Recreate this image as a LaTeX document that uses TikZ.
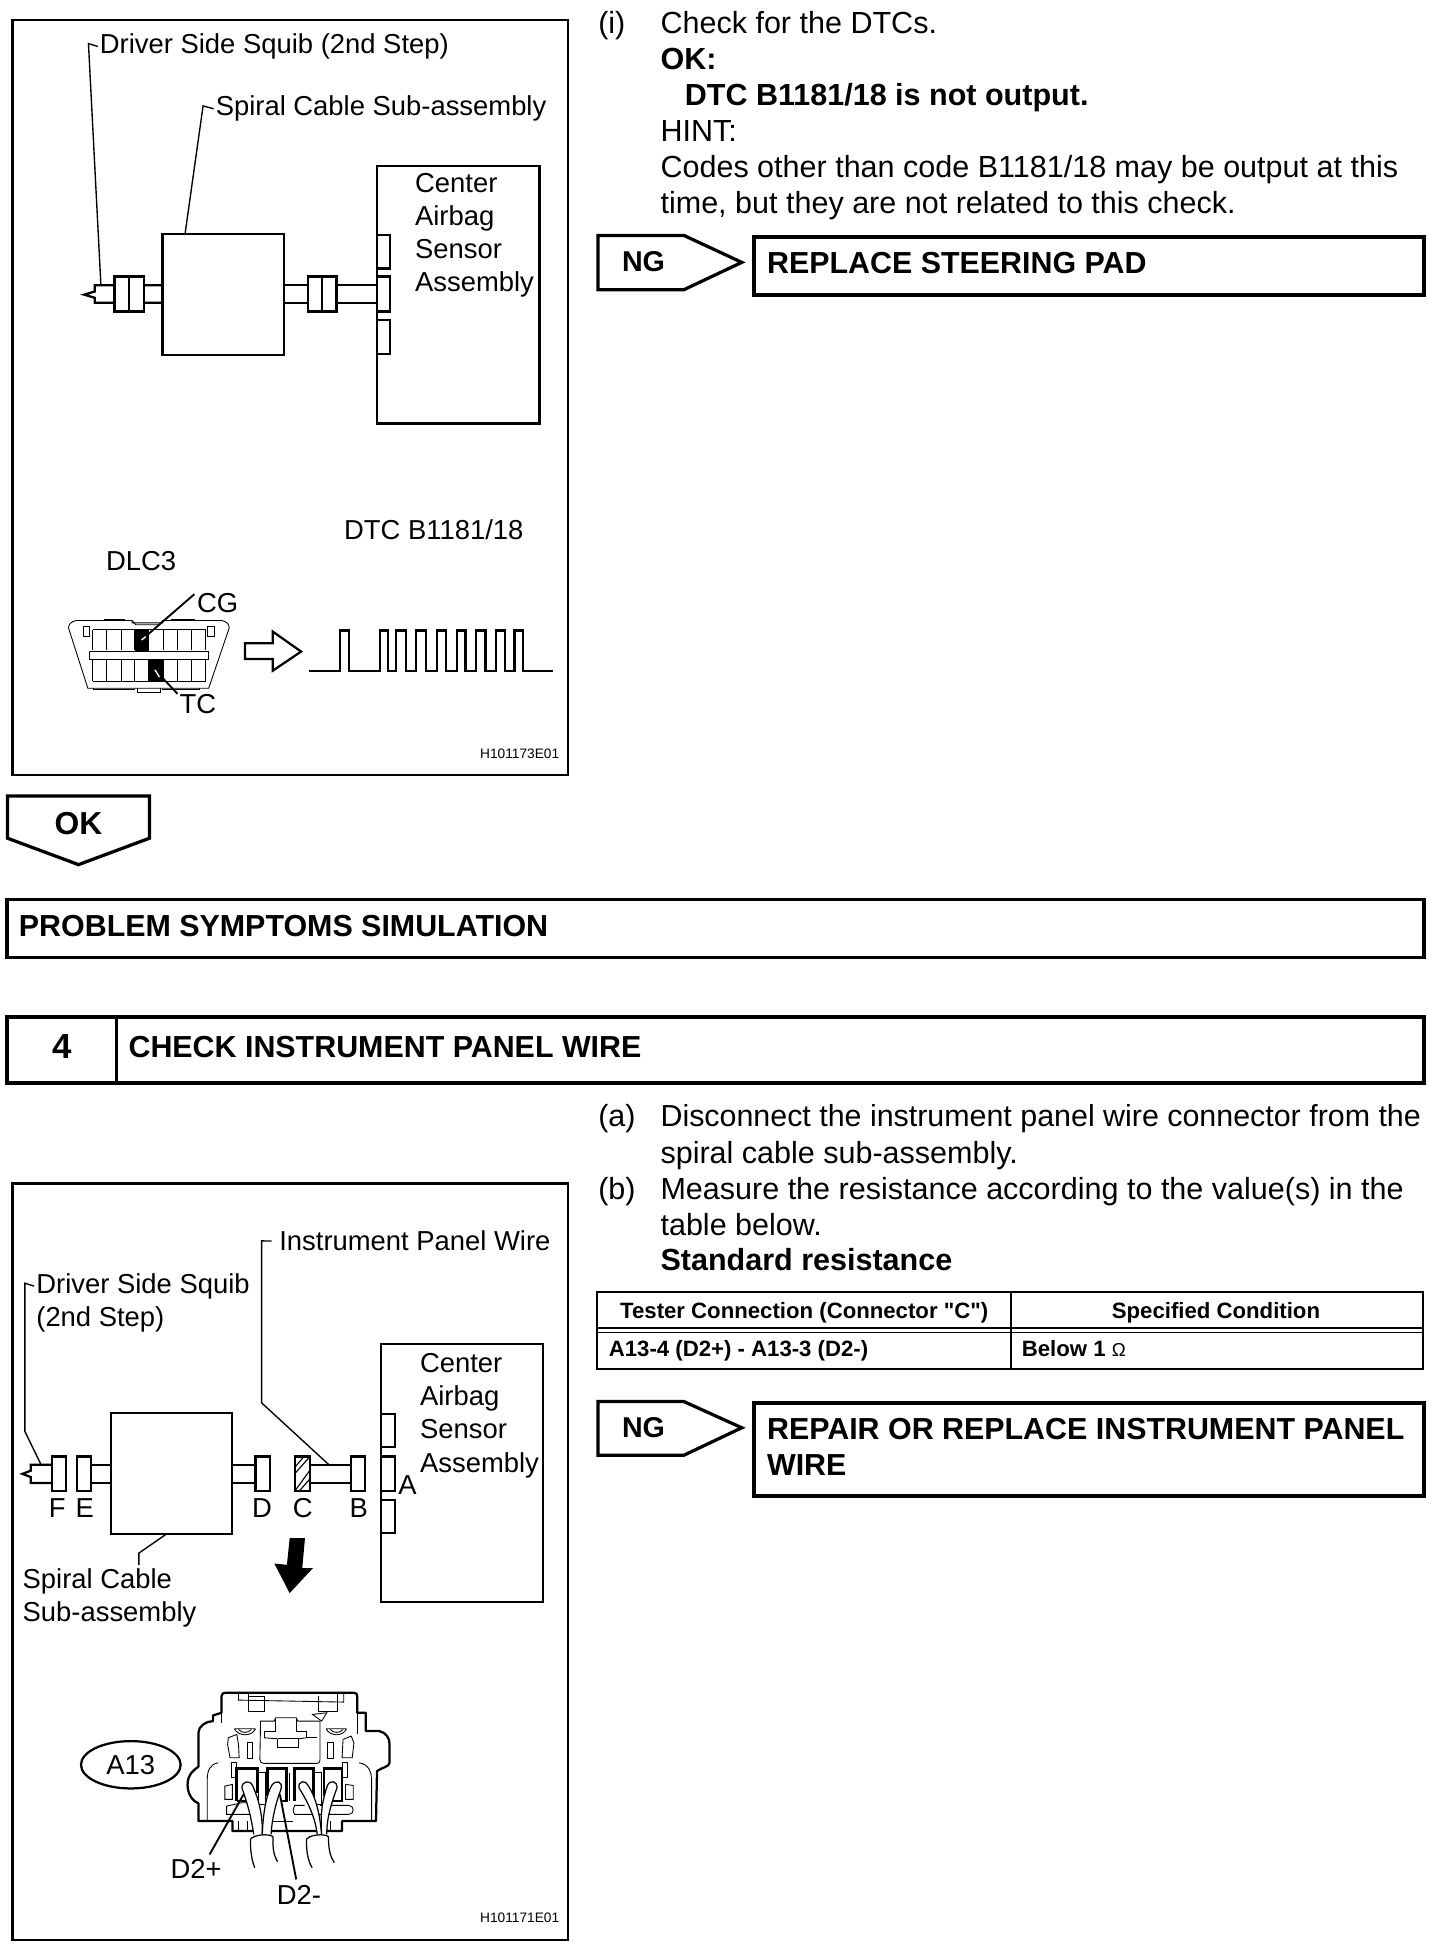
\documentclass[tikz,border=0pt]{standalone}
\usepackage{fontspec}
\setmainfont{Liberation Sans}
\newfontfamily\plainfam{Liberation Sans}
\usetikzlibrary{shapes.geometric,patterns}
\newcommand{\boxnode}[6]{\pgfmathsetmacro\rw{#4-#2}\pgfmathsetmacro\rh{#5-#3}\node[#6,anchor=north west,minimum width=\rw pt,minimum height=\rh pt,inner sep=0pt,outer sep=0pt] (#1) at (#2,#3) {};}
\tikzset{
  frm/.style={draw,line width=2pt},
  shp/.style={draw,fill=white,line width=1.8pt},
  hdr/.style={draw,line width=3pt},
  body/.style={inner sep=0pt,anchor=base west,font=\fontsize{24.5}{27}\selectfont},
  bbody/.style={inner sep=0pt,anchor=base west,font=\fontsize{24.5}{27}\selectfont\bfseries},
  lab/.style={inner sep=0pt,anchor=base west,font=\fontsize{22}{24}\selectfont},
  labc/.style={inner sep=0pt,anchor=base,font=\fontsize{22}{24}\selectfont},
  tit/.style={inner sep=0pt,anchor=base west,font=\fontsize{24.4}{27}\selectfont\bfseries},
  tbh/.style={inner sep=0pt,anchor=base,font=\fontsize{17.8}{19}\selectfont\bfseries},
  tbc/.style={inner sep=0pt,anchor=base west,font=\fontsize{17.8}{19}\selectfont\bfseries},
  code/.style={inner sep=0pt,anchor=base east,font=\fontsize{11}{12}\selectfont},
  lead/.style={line width=1.1pt},
  lead2/.style={line width=1.5pt},
  thin1/.style={line width=.7pt},
  arrowbox/.style={draw,fill=white,line width=2.6pt,line join=miter},
  wireln/.style={line width=1.8pt},
}
\begin{document}
\begin{tikzpicture}[x=1pt,y=-1pt]
\useasboundingbox (0,0) rectangle (1168.5,1570);
% ---------- upper frame
\boxnode{frameA}{10}{16}{456}{622}{frm}
\node[lab] (tA1) at (80,43) {Driver Side Squib (2nd Step)};
\node[lab] (tA2) at (173,93) {Spiral Cable Sub-assembly};
\boxnode{spiralA}{130.5}{188}{228}{285}{shp}
\boxnode{ecuA}{302.5}{133}{433}{340}{shp}
\node[lab] (tA3) at (333,154.5) {Center};
\node[lab] (tA4) at (333,181) {Airbag};
\node[lab] (tA5) at (333,207.5) {Sensor};
\node[lab] (tA6) at (333,234) {Assembly};
\boxnode{portA1}{302.5}{188.5}{313}{215.5}{shp}
\boxnode{portA2}{302.5}{222}{313}{250}{shp}
\boxnode{portA3}{302.5}{257}{313}{284}{shp}
% wires
\draw[wireln,line join=miter] (130.5,229) -- (76,229) -- (76,234) -- (67.5,236.5) -- (76,239) -- (76,243) -- (130.5,243);
\draw[wireln] (228,229) -- (302.5,229) (228,243) -- (302.5,243);
\boxnode{connA1}{92}{222}{115.5}{250}{shp}
\draw[wireln] (103.8,222) -- (103.8,250);
\boxnode{connA2}{247}{222}{270}{250}{shp}
\draw[wireln] (258.5,222) -- (258.5,250);
% leaders
\coordinate (hA1) at (71,35);
\coordinate (eA1) at (81,229);
\draw[lead] (tA1.west) ++(-1.5,0) -- (hA1) -- (eA1);
\coordinate (hA2) at (163,85);
\coordinate (eA2) at (148.5,188);
\draw[lead] (tA2.west) ++(-1.5,0) -- (hA2) -- (eA2);
% DLC3
\node[lab] (tDlc) at (85,458) {DLC3};
\node[lab] (tDtc) at (276,433) {DTC B1181/18};
\draw[thin1,fill=white] (61.4,498) -- (106,498) -- (106,500) -- (130.5,500) -- (130.5,498) -- (178,498) .. controls (182,499) and (184,501) .. (184,504) -- (167.5,552.4) -- (70.5,552.4) -- (55,504) .. controls (55,501) and (57,499) .. (61.4,498) -- cycle;
\draw[thin1] (84,498) -- (84,496.8) -- (100,496.8) -- (100,498) (138,498) -- (138,496.8) -- (156,496.8) -- (156,498);
\draw[thin1] (106,498) -- (109,501.5) -- (128,501.5) -- (130.5,498);
\draw[thin1] (75,552.4) -- (75,553.6) -- (108,553.6) (130,553.6) -- (160,553.6) -- (160,552.4);
\draw[thin1] (110.5,552.4) -- (110.5,555.7) -- (128.4,555.7) -- (128.4,552.4);
\draw[thin1] (67,503) rectangle (72,511) (166.8,503) rectangle (172,511);
\fill (108,505.6) rectangle (119.2,522.5);
\fill (119.2,528.4) rectangle (130.5,546.6);
\foreach \xa in {74.3,85.4,97.7,108,119.2,131.4,142.8,153.6,165}{
  \draw[thin1] (\xa,505.6) -- (\xa,521.7);
  \draw[thin1] (\xa,529) -- (\xa,546.6);
}
\draw[thin1] (74.3,505.6) -- (165,505.6) (74.3,546.6) -- (165,546.6);
\draw[thin1,fill=white] (71.6,523) rectangle (167.4,529);
\node[lab] (tCG) at (158,491.5) {CG};
\node[lab] (tTC) at (144,572.5) {TC};
\coordinate (eCG) at (113.6,513.7);
\coordinate (eTC) at (124.4,537.7);
\draw[lead2] (tCG.west) ++(-2,-7) -- (eCG);
\draw[white,lead] (117,511) -- (eCG);
\draw[lead2] (tTC.west) ++(-1.5,-8) -- (eTC);
\draw[white,lead] (128,543.5) -- (eTC);
% arrow
\node[inner sep=0pt,minimum size=0pt] (wvA) at (196.6,523) {};
\draw[line width=1.8pt,line join=miter] (wvA.center) ++(0,-6.7) -- (219,516.3) -- (219,507) -- (241.7,523) -- (219,538.3) -- (219,529) -- (196.6,529) -- cycle;
% waveform
\draw[line width=1.9pt] (248,538.8)
 -- (273,538.8) |- (280,506.2) |- (305,538.8) |- (311.5,506.2) |- (318,538.8)
 |- (326,506.2) |- (334,538.8) |- (342,506.2) |- (350.6,538.8) |- (358,506.2)
 |- (366.6,538.8) |- (373.6,506.2) |- (382,538.8) |- (389.6,506.2) |- (398,538.8)
 |- (405.5,506.2) |- (413,538.8) |- (420,506.2) |- (444,538.8);
\node[code] (codeA) at (449,609) {H101173E01};
% ---------- OK
\node[inner sep=0pt] (okc) at (63,661) {};
\draw[arrowbox] (6,639) -- (120,639) -- (120,672.8) -- (63,694) -- (6,672.8) -- cycle;
\node[bbody,anchor=center,font=\fontsize{25.5}{27}\selectfont\bfseries] (okt) at (okc) {OK};
% ---------- banner
\boxnode{probB}{5.5}{722}{1143}{768.5}{hdr}
\node[tit] (probT) at (15,751.5) {PROBLEM SYMPTOMS SIMULATION};
\boxnode{numB}{5.5}{816}{93.5}{869}{hdr}
\boxnode{checkB}{93.5}{816}{1143}{869}{hdr}
\node[inner sep=0pt,anchor=center,font=\fontsize{28}{30}\selectfont\bfseries] (numT) at (50,840) {4};
\node[tit] (checkT) at (103,848.5) {CHECK INSTRUMENT PANEL WIRE};
% ---------- upper text
\node[body] (ti) at (480,26.5) {(i)};
\node[body] (l1) at (530,26.5) {Check for the DTCs.};
\node[bbody] (l2) at (530,55.5) {OK:};
\node[bbody] (l3) at (549.5,84.5) {DTC B1181/18 is not output.};
\node[body] (l4) at (530,113.5) {HINT:};
\node[body] (l5) at (530,142.5) {Codes other than code B1181/18 may be output at this};
\node[body] (l6) at (530,171.5) {time, but they are not related to this check.};
\draw[arrowbox] (480,189) -- (549,189) -- (595.4,210.6) -- (549,232.5) -- (480,232.5) -- cycle;
\node[bbody,anchor=center,font=\fontsize{23}{25}\selectfont\bfseries] (ng1) at (516.5,210) {NG};
\boxnode{repA}{605}{190}{1143}{237}{hdr}
\node[tit] (repAt) at (615.5,219.5) {REPLACE STEERING PAD};
% ---------- lower text
\node[body] (ta) at (480,904.5) {(a)};
\node[body,font=\fontsize{24.4}{27}\selectfont] (m1) at (530,904.5) {Disconnect the instrument panel wire connector from the};
\node[body] (m2) at (530,933.5) {spiral cable sub-assembly.};
\node[body] (tb) at (480,962.5) {(b)};
\node[body] (m3) at (530,962.5) {Measure the resistance according to the value(s) in the};
\node[body] (m4) at (530,991.5) {table below.};
\node[bbody] (m5) at (530,1020) {Standard resistance};
% table
\boxnode{tbl}{479}{1037}{1142}{1099}{draw,line width=2pt}
\draw[line width=1.4pt] (tbl.north west |- 0,1066) -- (tbl.north east |- 0,1066);
\draw[line width=1.4pt] (tbl.north west |- 0,1069.5) -- (tbl.north east |- 0,1069.5);
\draw[line width=1.4pt] (811.5,1037) -- (811.5,1099);
\node[tbh] (h1) at (645.5,1058) {Tester Connection (Connector {\plainfam\bfseries\symbol{34}C\symbol{34}})};
\node[tbh] (h2) at (976,1058) {Specified Condition};
\node[tbc] (c1) at (488.5,1088.5) {A13-4 (D2+) - A13-3 (D2-)};
\node[tbc] (c2) at (820,1088.5) {Below 1 {\mdseries\fontsize{15}{16}\selectfont Ω}};
\draw[arrowbox] (480,1125) -- (549,1125) -- (595.4,1146) -- (549,1168) -- (480,1168) -- cycle;
\node[bbody,anchor=center,font=\fontsize{23}{25}\selectfont\bfseries] (ng2) at (516.5,1145.5) {NG};
\boxnode{repB}{605}{1126}{1143}{1201}{hdr}
\node[tit] (repBt) at (615.5,1155.5) {REPAIR OR REPLACE INSTRUMENT PANEL};
\node[tit] (repBu) at (615.5,1184.5) {WIRE};
% ---------- lower frame
\boxnode{frameB}{10}{950}{456}{1557}{frm}
\node[lab] (tB1) at (224,1004) {Instrument Panel Wire};
\node[lab] (tB2) at (29,1038) {Driver Side Squib};
\node[lab] (tB3) at (29,1065) {(2nd Step)};
\node[lab] (tB4) at (18,1275) {Spiral Cable};
\node[lab] (tB5) at (18,1301.5) {Sub-assembly};
\boxnode{spiralB}{89}{1134}{186}{1231}{shp}
\boxnode{ecuB}{306}{1079}{436}{1286}{shp}
\node[lab] (tB6) at (337,1102) {Center};
\node[lab] (tB7) at (337,1128.5) {Airbag};
\node[lab] (tB8) at (337,1155) {Sensor};
\node[lab] (tB9) at (337,1181.5) {Assembly};
\boxnode{portB1}{306}{1135}{317}{1161.5}{shp}
\boxnode{portB2}{306}{1169}{317}{1197}{shp}
\boxnode{portB3}{306}{1204}{317}{1230.5}{shp}
\draw[wireln,line join=miter] (41.5,1175.7) -- (24.6,1175.7) -- (24.6,1180.5) -- (18,1183) -- (24.6,1185.5) -- (24.6,1190.4) -- (41.5,1190.4);
\draw[wireln] (73,1175.7) -- (89,1175.7) (73,1190.4) -- (89,1190.4);
\draw[wireln] (186,1175.7) -- (205,1175.7) (186,1190.4) -- (205,1190.4);
\draw[wireln] (248.8,1175.7) -- (282,1175.7) (248.8,1190.4) -- (282,1190.4);
\boxnode{connF}{41.5}{1169}{52.8}{1197}{shp}
\boxnode{connE}{62}{1169}{73}{1197}{shp}
\boxnode{connD}{205}{1169}{216.5}{1197}{shp}
\boxnode{connC}{236.5}{1169}{248.8}{1197}{shp}
\boxnode{connB}{282}{1169}{292.7}{1197}{shp}
\draw[line width=.9pt] (236.5,1183) -- (248.8,1169) (236.5,1197) -- (248.8,1180) (236.5,1178) -- (244,1169) (240,1197) -- (248.8,1187);
\node[labc] (lF) at (46,1218) {F};
\node[labc] (lE) at (68,1218) {E};
\node[labc] (lD) at (210.4,1218) {D};
\node[labc] (lC) at (243,1218) {C};
\node[labc] (lB) at (288,1218) {B};
\node[lab] (lA) at (319.5,1199.5) {A};
% leaders lower
\coordinate (hB1) at (20,1030);
\coordinate (kB1) at (20,1149);
\coordinate (eB1) at (33,1175.7);
\draw[lead] (tB2.west) ++(-1.5,0) -- (hB1) -- (kB1) -- (eB1);
\coordinate (hB2) at (210,996);
\coordinate (kB2) at (210,1126);
\coordinate (eB2) at (264,1175.7);
\draw[lead] (tB1.west) ++(-6,0) -- (hB2) -- (kB2) -- (eB2);
\coordinate (kB3) at (111.5,1246.6);
\coordinate (eB3) at (111.5,1256);
\draw[lead] (134,1231) -- (kB3) -- (eB3);
% black arrow
\fill (232.5,1234.6) -- (244.8,1234.6) -- (242.6,1258.6) -- (251.2,1258.6) -- (232.5,1278.7) -- (220.2,1255) -- (230.3,1256) -- cycle;
% A13 connector
\node[draw,ellipse,line width=1.8pt,minimum width=80pt,minimum height=38pt,inner sep=0pt,font=\fontsize{22}{24}\selectfont] (a13) at (105,1416.5) {A13};
\begin{scope}[shift={(47,1348)},x=.2725pt,y=-.2675pt]
 \draw[line width=1.8pt,line join=round,fill=white] (480,50) .. controls (480,42) and (485,40) .. (495,40) -- (870,40) .. controls (878,40) and (880,44) .. (880,52) -- (880,100) -- (905,100) -- (905,155) -- (945,155) .. controls (965,160) and (975,175) .. (975,195) -- (975,250) .. controls (975,262) and (950,265) .. (938,275) -- (935,425) -- (835,425) -- (835,455) -- (512,455) -- (512,425) -- (412,425) -- (412,372) .. controls (395,365) and (380,345) .. (380,315) .. controls (380,285) and (400,270) .. (412,262) -- (412,160) .. controls (412,140) and (435,125) .. (455,125) -- (455,108) -- (480,100) -- cycle;
 \begin{scope}[thin1]
  \draw (530,42) -- (530,62) -- (840,68) -- (840,42);
  \draw (560,42) -- (560,95) -- (605,95) -- (605,50) -- (560,50);
  \draw (765,50) -- (765,95) -- (820,95) -- (820,42);
  \draw (480,105) -- (480,130) (880,100) -- (880,165);
  \draw (748,105) -- (790,100) -- (775,125) -- cycle;
  \draw (518,148) -- (580,148) (518,148) .. controls (530,172) and (570,172) .. (580,148);
  \draw (530,150) .. controls (540,162) and (558,162) .. (568,150);
  \draw (788,148) -- (848,148) (788,148) .. controls (800,172) and (838,172) .. (848,148);
  \draw (800,150) .. controls (810,162) and (828,162) .. (838,150);
  \draw (595,125) -- (635,125) -- (640,115) -- (700,115) -- (705,125) -- (770,125) -- (770,240) .. controls (770,250) and (765,252) .. (760,252) -- (605,252) .. controls (598,252) and (593,248) .. (593,240) -- cycle;
  \draw (640,115) -- (640,155) -- (605,155) -- (605,175) (700,115) -- (700,155) -- (730,155) -- (730,175) -- (760,175);
  \draw (645,178) -- (645,205) -- (708,205) -- (708,178) -- (645,178);
  \draw (605,175) -- (645,178) (708,178) -- (730,175);
  \draw (500,175) -- (525,165) -- (530,195) -- (532,235) -- (505,235) -- (498,195) -- cycle;
  \draw (555,190) -- (572,190) -- (572,238) -- (555,238) -- cycle;
  \draw (792,190) -- (810,190) -- (810,238) -- (792,238) -- cycle;
  \draw (835,235) -- (865,235) -- (870,190) -- (862,170) -- (838,180) -- cycle;
  \draw (470,250) .. controls (445,255) and (438,275) .. (438,300) -- (438,425);
  \draw (885,250) .. controls (915,255) and (922,280) .. (922,300) -- (922,425);
  \draw (510,248) -- (525,248) -- (525,295) -- (510,295) -- cycle;
  \draw (835,248) -- (852,248) -- (852,295) -- (835,295) -- cycle;
  \draw (490,320) -- (512,315) -- (512,360) -- (490,360) -- cycle;
  \draw (845,315) -- (868,318) -- (868,360) -- (845,360) -- cycle;
  \draw (590,280) -- (608,280) -- (608,375) -- (590,375) -- cycle;
  \draw (755,280) -- (775,280) -- (775,375) -- (755,375) -- cycle;
  \draw (680,280) -- (680,365);
  \draw (495,380) -- (540,370) -- (575,370) (495,380) -- (495,405) -- (580,405);
  \draw (770,378) -- (855,378) .. controls (872,378) and (872,405) .. (855,405) -- (695,405) .. controls (690,395) and (690,385) .. (695,378) -- (725,378);
  \draw (530,425) -- (530,452) (555,425) -- (555,452) (630,425) -- (690,425) (800,425) -- (800,452);
 \end{scope}
 \begin{scope}[line width=2.2pt]
  \draw (525,365) -- (525,267) -- (585,267) -- (585,340) (525,365) -- (560,365);
  \draw (615,350) -- (615,267) -- (672,267) -- (672,365) -- (655,365);
  \draw (695,365) -- (695,267) -- (750,267) -- (750,365) -- (735,365);
  \draw (782,350) -- (782,267) -- (835,267) -- (835,365) -- (800,365);
 \end{scope}
 \begin{scope}[line width=1pt,fill=white]
  \filldraw (575,465) .. controls (565,400) and (555,370) .. (540,325) .. controls (540,305) and (565,300) .. (572,320) .. controls (590,360) and (602,410) .. (600,465);
  \filldraw (600,465) .. controls (602,410) and (610,350) .. (628,318) .. controls (640,300) and (662,305) .. (655,330) .. controls (640,370) and (628,420) .. (626,465);
  \filldraw (762,465) .. controls (755,410) and (735,370) .. (708,325) .. controls (705,305) and (728,300) .. (735,318) .. controls (755,350) and (768,390) .. (775,465);
  \filldraw (775,465) .. controls (770,400) and (778,360) .. (792,318) .. controls (800,300) and (822,305) .. (820,325) .. controls (805,370) and (790,410) .. (790,465);
  \draw (565,480) .. controls (575,465) and (620,462) .. (632,472) (565,480) .. controls (565,520) and (570,545) .. (578,565) (632,472) .. controls (630,510) and (635,530) .. (645,547);
  \draw (730,480) .. controls (740,465) and (785,462) .. (795,472) (730,480) .. controls (730,520) and (735,545) .. (747,565) (795,472) .. controls (795,510) and (800,530) .. (812,550);
 \end{scope}
 \node[lab,anchor=center] (dp) at (405,570) {D2+};
 \node[lab,anchor=center] (dm) at (708,647) {D2-};
 \coordinate (edp) at (545,345);
 \coordinate (edm) at (652,345);
 \draw[line width=1.5pt] (445,525) -- (edp);
 \draw[line width=1.5pt] (700,600) -- (edm);
\end{scope}
\node[code] (codeB) at (449,1543) {H101171E01};
\end{tikzpicture}
\end{document}
